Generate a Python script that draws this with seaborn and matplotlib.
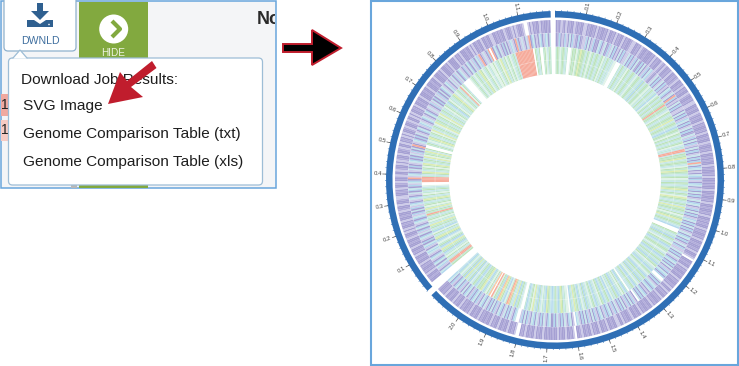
import numpy as np
import pandas as pd
import matplotlib
matplotlib.use("Agg")
import matplotlib.pyplot as plt
from matplotlib.patches import FancyBboxPatch, Polygon, Rectangle, Circle
from matplotlib.transforms import Bbox
import seaborn as sns

# colour classes of the gene cells, one letter per cell in the track strings below
cell_colors = {
    "P": "#a5a0d3", "p": "#b2addb", "l": "#cdcbe9", "w": "#ffffff",
    "b": "#b2d8ee", "c": "#c8e7ec", "s": "#f6ab9b", "o": "#f8c8a0",
    "g": "#bde2b8", "m": "#c2e9d5", "n": "#e0f3e9", "y": "#dcecb0",
}

# contig A runs clockwise from the top gap, contig B fills the rest of the circle
track1_a = (
    "PpPlpPlPpPPlpPpPPllPpPPpPlPpPP" "pPlPPpPlPpPPlPpPPpllPPpPlpPPpP"
    "PPpPlPpPPlpPlPPpPlPPpPplPPpPlP" "pPPlpPPpPllPPpPPlpPpPPlPpPPpPl"
    "PPpPPlpPPpPlPPpPpPPlPpPPpPlPPp" "PpPPlPPpPPpPlPPpPPpPlPPpPpPPlP"
    "pPPpPlPPpPPpPlPPplwPPpPPlPpPPp" "PPlPpPPpPlPPlPpPPlPpPPpPlPPpPP"
    "pPlPPpPPlpPPpPlPPllPPpPPlPpPPl" "PPpPlPPpPPlpPPwlPpPPlPPpPlPPpP"
    "PpPPlPPpPlPPpPPlPpPwwlPpPPlPP" "pPPlPPpPlPPpPPpPlPPpPPlPpPPpPl"
    "PPpPlPPpPPlPpPPp"
)
track1_b = (
    "PPpPPlPpPPpPlPPpPPlPpPPlPPpPPl" "pPPlPlPPpPlPPpPPlpPPlPPpllPPpP"
    "lPPplPPplPPlpPPlPlpPPlPPplPPlP" "pPlPlPPplPPplPPlPlPPpPlPPpPPlP"
    "PPpPPlPPPpPPlPPPpPlPPPpPlPPPPl" "PpPlPPPpPPlPlPPpPPlPPpPPllPPpP"
    "pPPlpPPplPlpPPplwwlPlPpPPlPpP" "PpP"
)
track2_a = (
    "PpbPlpblPcPblpPbPpllbPcPlbPpPc" "bPlcPpblcPbPlPcPbpllcPbPlbPcpP"
    "bPcPlbPcblpPlcPbPlcPbplPcbPlcP" "sbPlpcPbPllPcPbPlbcPbPlcPbPpcl"
    "bPcPblpcPbPlcPbPbscPbcPlPcbPbl" "PbcPlbPcPbPlcPbcPlbPcPbPlbcPbP"
    "cPbPlcPbcPbPlcPbllcPbPclPbcPbP" "cPlbPcbPbwwcPbPlcbPbcPlPbcPbPc"
    "wPlbPcPblPcPbPlcPblPcbPblPcbPl" "bPcPlbPcPbPlcbwlPcbPlcPbPlcPbP"
    "PcbPlcPbPlcPbcPlbPcPblwwcbPlcP" "bPclPbcPlbPcPbPlcPbcPlbPcbPblP"
    "cbPcPlbPcbPlbPcb"
)
track2_b = (
    "bcPlbcPcbPlcbPlcbcPlbcPbPlcbPc" "lbPcbPlcbPbclbPcPblcbPlcbPlcPb"
    "cPblcbPslcbPlcPbPlcbPbPclbPcPs" "PlcbPbPclPbcPlbclPbclPcbPlclPb"
    "lcPbPclbPcPbclPcblPclcPblcPbcl" "PblPcbPclbPcblsPlclPbswsPcbPclP"
    "bPcPlbclPsbPlclPclsPbcPlPcbPlb" "cPc"
)
track3_a = (
    "mgmnmgmcmwwngmgnmgyggmcgmnmgcm" "gmcmgnmcgmcmcnnwwwmcgmcmngmcmg"
    "mcnmgmcmbgcmgmnmcgmcmbnmgcmgcm" "gsmgmcngmcmgmycmgmcbmgmngmcgmc"
    "mgncmcsscgmgycmgmcngmygmcmgnmc" "gmcmgymcgmnygmcmgcymgmcgnmgycm"
    "gmcbwwwgmcmbgmcngmbcmgmncgmbcm" "gcmbmgncmbcgmncbmgcmbgcnmbcgmc"
    "cwmbcgnmcbmgcmnbcgmcbmgncmbcgm" "ncmbgcnmbcgmycmbwnnmcgymbcgmc"
    "bcmgybcmncgbmcyngmcbmwwncgmbyc" "cgosmnbcgyobmgnswocgnmbcygmgcb"
    "mgcnbgcmybgcnmbc"
)
track3_b = (
    "gmssmcgnmcbgmycbgmncbgymcgnbmc" "gmycmngmcgsmgcymngmcgymcgnmcgm"
    "cnwwssssmcgycmgngycmgcyngmycgw" "wmgcnmygcmgnycmgcnymgcmgnycmg"
    "cmngmcbgnmcmgycnmgcmsngcwwwwwn" "mgcnmgcmygncmgncmnngncmgnymcgn"
    "mgncmgcssssssssssssswgmcgwwmgn" "cgm"
)

# contig layout in degrees clockwise from the top, genome scale in Mb
deg_per_mb = 107.5
ring_a = (0.0, 227.0)
ring_b = (229.0, 358.5)
cells_a = (0.3, 227.0)
cells_b = (230.3, 358.3)
labels_a = [0.1, 0.2, 0.3, 0.4, 0.5, 0.6, 0.7, 0.8, 0.9, 1.0, 1.1, 1.2, 1.3, 1.4, 1.5, 1.6, 1.7, 1.8, 1.9, 2.0]
labels_b = [0.1, 0.2, 0.3, 0.4, 0.5, 0.6, 0.7, 0.8, 0.9, 1.0, 1.1]

# radii in picture pixels
ring_in, ring_out = 162.5, 169
track_edges = [(147.2, 160), (133.3, 147), (106, 133.1)]
center_x, center_y, ax_r = 555, 180, 184

sns.set_theme(style="white")
plt.rcParams["font.family"] = ["Liberation Sans", "DejaVu Sans"]

fig = plt.figure(figsize=(7.39, 3.66), dpi=100, facecolor="white")

# ---- screenshot part on the left, drawn in pixel coordinates
ax = fig.add_axes([0, 0, 1, 1])
ax.set_xlim(0, 739)
ax.set_ylim(366, 0)
ax.axis("off")

border = "#69a6dc"
ax.add_patch(Rectangle((0.7, 1), 275, 187, fc="#f4f5f7", ec=border, lw=1.1))
ax.add_patch(Rectangle((79, 1.6), 69, 186, fc="#82a93f", ec="none"))
ax.add_patch(Rectangle((71, 184), 6, 3.5, fc="#b8b8b8", ec="none"))
ax.add_patch(FancyBboxPatch((4, -6), 72, 57, boxstyle="round,pad=0,rounding_size=4", fc="white", ec="#8fb1cd", lw=0.9))

# download icon
icon = "#2f6090"
ax.add_patch(Rectangle((37, 3), 6, 9, fc=icon, ec="none"))
ax.add_patch(Polygon([(31, 11), (49, 11), (40, 20)], fc=icon, ec="none"))
ax.add_patch(Polygon([(27, 20), (34, 20), (40, 24), (46, 20), (53, 20), (53, 27), (27, 27)], fc=icon, ec="none"))
ax.add_patch(Circle((49, 24.5), 0.8, fc="white", ec="none"))
ax.text(40, 41, "DWNLD", color="#3f6f9f", fontsize=7.6, ha="center", va="center")

# hide button
ax.add_patch(Circle((113.7, 29), 14.5, fc="white", ec="none"))
ax.plot([112, 120, 112], [21, 29, 37], color="#82a93f", lw=3, solid_capstyle="butt")
ax.text(113.5, 53, "HIDE", color="#eef3e2", fontsize=7.2, ha="center", va="center")

no_text = ax.text(257, 20, "No", color="#2a2a2a", fontsize=13, fontweight="bold", va="center", clip_on=True)
no_text.set_clip_box(Bbox([[250, 300], [274.5, 366]]))

# table cells peeking out behind the popup
ax.add_patch(Rectangle((1.3, 94), 7, 22, fc="#f0a9a0", ec="none"))
ax.add_patch(Rectangle((1.3, 120), 7, 21, fc="#f6cac3", ec="none"))
ax.text(1.5, 105, "1", color="#222222", fontsize=10, va="center")
ax.text(1.5, 130, "1", color="#222222", fontsize=10, va="center")

# popup
ax.add_patch(FancyBboxPatch((8.5, 58), 254, 127, boxstyle="round,pad=0,rounding_size=4", fc="white", ec="#9dbdd6", lw=0.9, zorder=3))
ax.add_patch(Polygon([(13, 58.6), (20, 50), (27, 58.6)], fc="white", ec="none", zorder=4))
ax.plot([13, 20, 27], [58, 50, 58], color="#9dbdd6", lw=0.9, zorder=4)

menu_items = ["SVG Image", "Genome Comparison Table (txt)", "Genome Comparison Table (xls)"]
ax.text(21, 80, "Download Job Results:", color="#1e1e1e", fontsize=11.1, va="center", zorder=5)
for item, y in zip(menu_items, [106, 134, 162]):
    ax.text(23, y, item, color="#1e1e1e", fontsize=11.1, va="center", zorder=5)

# red pointer on the menu, black arrow between the panels
ax.add_patch(Polygon([(152, 61), (156.5, 68), (131, 87), (143, 97), (108, 104), (120, 72), (127, 81)], fc="#c01d2d", ec="none", zorder=6))
ax.add_patch(Polygon([(283, 44), (312, 44), (312, 30), (341, 48), (312, 65), (312, 52), (283, 52)], fc="black", ec="#c01d2d", lw=1.4, zorder=6))

# frame of the circular plot
ax.add_patch(Rectangle((371, 1), 367, 364, fc="none", ec=border, lw=1.5))

# ---- circular genome plot
polar = fig.add_axes(
    [(center_x - ax_r) / 739, (366 - center_y - ax_r) / 366, 2 * ax_r / 739, 2 * ax_r / 366],
    projection="polar",
)
polar.patch.set_alpha(0)
polar.set_theta_zero_location("N")
polar.set_theta_direction(-1)

tracks = [(track1_a, track1_b), (track2_a, track2_b), (track3_a, track3_b)]
for (inner, outer), (cells_in_a, cells_in_b) in zip(track_edges, tracks):
    for cells, (start, end) in [(cells_in_a, cells_a), (cells_in_b, cells_b)]:
        step = (end - start) / len(cells)
        theta = np.deg2rad(start + step * (np.arange(len(cells)) + 0.5))
        frame = pd.DataFrame({"theta": theta, "height": outer - inner, "kind": list(cells)})
        sns.barplot(
            data=frame, x="theta", y="height", hue="kind", palette=cell_colors,
            native_scale=True, dodge=False, width=1.1, gap=0, errorbar=None, saturation=1,
            legend=False, ax=polar, bottom=inner, linewidth=0,
        )

# faint line that splits the inner track in two
for start, end in [cells_a, cells_b]:
    arc = np.deg2rad(np.linspace(start, end, 200))
    polar.plot(arc, np.full(200, 120), color="white", lw=0.4, alpha=0.5)

# blue scale ring with ticks and labels
ring_color = "#2f6fb5"
for start, end in [ring_a, ring_b]:
    polar.bar(np.deg2rad(start), ring_out - ring_in, width=np.deg2rad(end - start), bottom=ring_in,
              align="edge", color=ring_color, linewidth=0)
    minor = np.deg2rad(np.arange(start, end, 0.02 * deg_per_mb))
    polar.vlines(minor, ring_out - 0.5, ring_out + 1, color=ring_color, lw=0.4)

for labels, start in [(labels_a, ring_a[0]), (labels_b, ring_b[0])]:
    for mb in labels:
        deg = start + mb * deg_per_mb
        rad = np.deg2rad(deg)
        polar.plot([rad, rad], [ring_out, ring_out + 3.5], color="#555555", lw=0.5)
        angle = 90 - deg if deg < 180 else 270 - deg
        polar.text(rad, 177.5, f"{mb:.1f}", color="#444444", fontsize=4.3, rotation=angle,
                   rotation_mode="anchor", ha="center", va="center")

polar.set_xlim(0, 2 * np.pi)
polar.set_ylim(0, ax_r)
polar.set_xlabel("")
polar.set_ylabel("")
polar.axis("off")

fig.savefig("out.png", dpi=100)
